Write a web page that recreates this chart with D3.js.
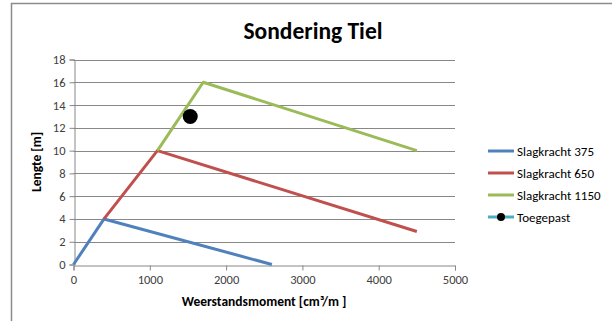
<!DOCTYPE html>
<html>
<head>
<meta charset="utf-8">
<script src="https://cdn.jsdelivr.net/npm/d3@7"></script>
<style>
  html, body { margin: 0; padding: 0; background: #fff; }
  svg { display: block; }
</style>
</head>
<body>
<svg id="chart" width="613" height="321"></svg>
<script>
// Series: points along each driving-force curve (x = section modulus, y = length)
const seriesNames = ["Slagkracht 375", "Slagkracht 650", "Slagkracht 1150", "Toegepast"];
const seriesColors = ["#4F81BD", "#C0504D", "#9BBB59", "#4BACC6"];
const slag375X = [0, 400, 2600];
const slag375Y = [0, 4, 0];
const slag650X = [400, 1100, 4500];
const slag650Y = [4, 10, 2.9];
const slag1150X = [1100, 1700, 4500];
const slag1150Y = [10, 16, 10];
const toegepastX = [1530];
const toegepastY = [13];
const xTicks = [0, 1000, 2000, 3000, 4000, 5000];
const yTicks = [0, 2, 4, 6, 8, 10, 12, 14, 16, 18];

const svg = d3.select("#chart");
const font = "Calibri, Carlito, Lato, 'Open Sans', 'Liberation Sans', sans-serif";

// Chart frame
svg.append("path")
  .attr("d", "M11.5,321 L11.5,3.5 L612,3.5")
  .attr("fill", "none").attr("stroke", "#8c8c8c").attr("stroke-width", 1.5);

const x = d3.scaleLinear().domain([0, 5000]).range([73.5, 455]);
const y = d3.scaleLinear().domain([0, 18]).range([264.5, 59.5]);

// Horizontal gridlines
svg.append("g").selectAll("line").data(yTicks.filter(d => d > 0)).join("line")
  .attr("x1", x(0)).attr("x2", x(5000))
  .attr("y1", d => Math.round(y(d)) + 0.5).attr("y2", d => Math.round(y(d)) + 0.5)
  .attr("stroke", "#888").attr("stroke-width", 1);

// Axes
const xAxis = d3.axisBottom(x).tickValues(xTicks).tickSize(5).tickPadding(5).tickFormat(d3.format("d"));
const yAxis = d3.axisLeft(y).tickValues(yTicks).tickSize(5).tickPadding(4).tickFormat(d3.format("d"));

const gx = svg.append("g").attr("transform", `translate(0,${Math.round(y(0)) + 0.5})`).call(xAxis);
const gy = svg.append("g").attr("transform", `translate(${Math.round(x(0)) + 0.5},0)`).call(yAxis);
[gx, gy].forEach(g => {
  g.select(".domain").attr("stroke", "#888");
  g.selectAll(".tick line").attr("stroke", "#888");
  g.selectAll(".tick text").attr("fill", "#404040").attr("font-size", 12.5).attr("font-family", font);
});

// Lines
const line = d3.line().x(d => x(d[0])).y(d => y(d[1]));
const curves = [
  [slag375X, slag375Y],
  [slag650X, slag650Y],
  [slag1150X, slag1150Y]
];
curves.forEach((c, i) => {
  const pts = c[0].map((v, j) => [v, c[1][j]]);
  svg.append("path").datum(pts)
    .attr("d", line)
    .attr("fill", "none")
    .attr("stroke", seriesColors[i])
    .attr("stroke-width", 3)
    .attr("stroke-linejoin", "round");
});

// Applied point
svg.append("g").selectAll("circle")
  .data(toegepastX.map((v, j) => [v, toegepastY[j]]))
  .join("circle")
  .attr("cx", d => x(d[0])).attr("cy", d => y(d[1]))
  .attr("r", 7.5).attr("fill", "#000");

// Title
svg.append("text")
  .attr("x", 313).attr("y", 39)
  .attr("text-anchor", "middle")
  .attr("font-family", font).attr("font-weight", "bold").attr("font-size", 23.5)
  .attr("fill", "#000")
  .text("Sondering Tiel");

// Axis titles
svg.append("text")
  .attr("x", 264).attr("y", 306)
  .attr("text-anchor", "middle")
  .attr("font-family", font).attr("font-weight", "bold").attr("font-size", 13.5)
  .attr("fill", "#000")
  .text("Weerstandsmoment [cm³/m ]");

svg.append("text")
  .attr("transform", "translate(41,162) rotate(-90)")
  .attr("text-anchor", "middle")
  .attr("font-family", font).attr("font-weight", "bold").attr("font-size", 13.5)
  .attr("fill", "#000")
  .text("Lengte [m]");

// Legend
const legend = svg.append("g").attr("transform", "translate(488,151)");
seriesNames.forEach((name, i) => {
  const g = legend.append("g").attr("transform", `translate(0,${i * 22})`);
  g.append("line").attr("x1", 0).attr("x2", 26).attr("y1", 0).attr("y2", 0)
    .attr("stroke", seriesColors[i]).attr("stroke-width", 3);
  if (name === "Toegepast") {
    g.append("circle").attr("cx", 13).attr("cy", 0).attr("r", 4).attr("fill", "#000");
  }
  g.append("text").attr("x", 29).attr("y", 4.5)
    .attr("font-family", font).attr("font-size", 13).attr("fill", "#000")
    .text(name);
});
</script>
</body>
</html>
